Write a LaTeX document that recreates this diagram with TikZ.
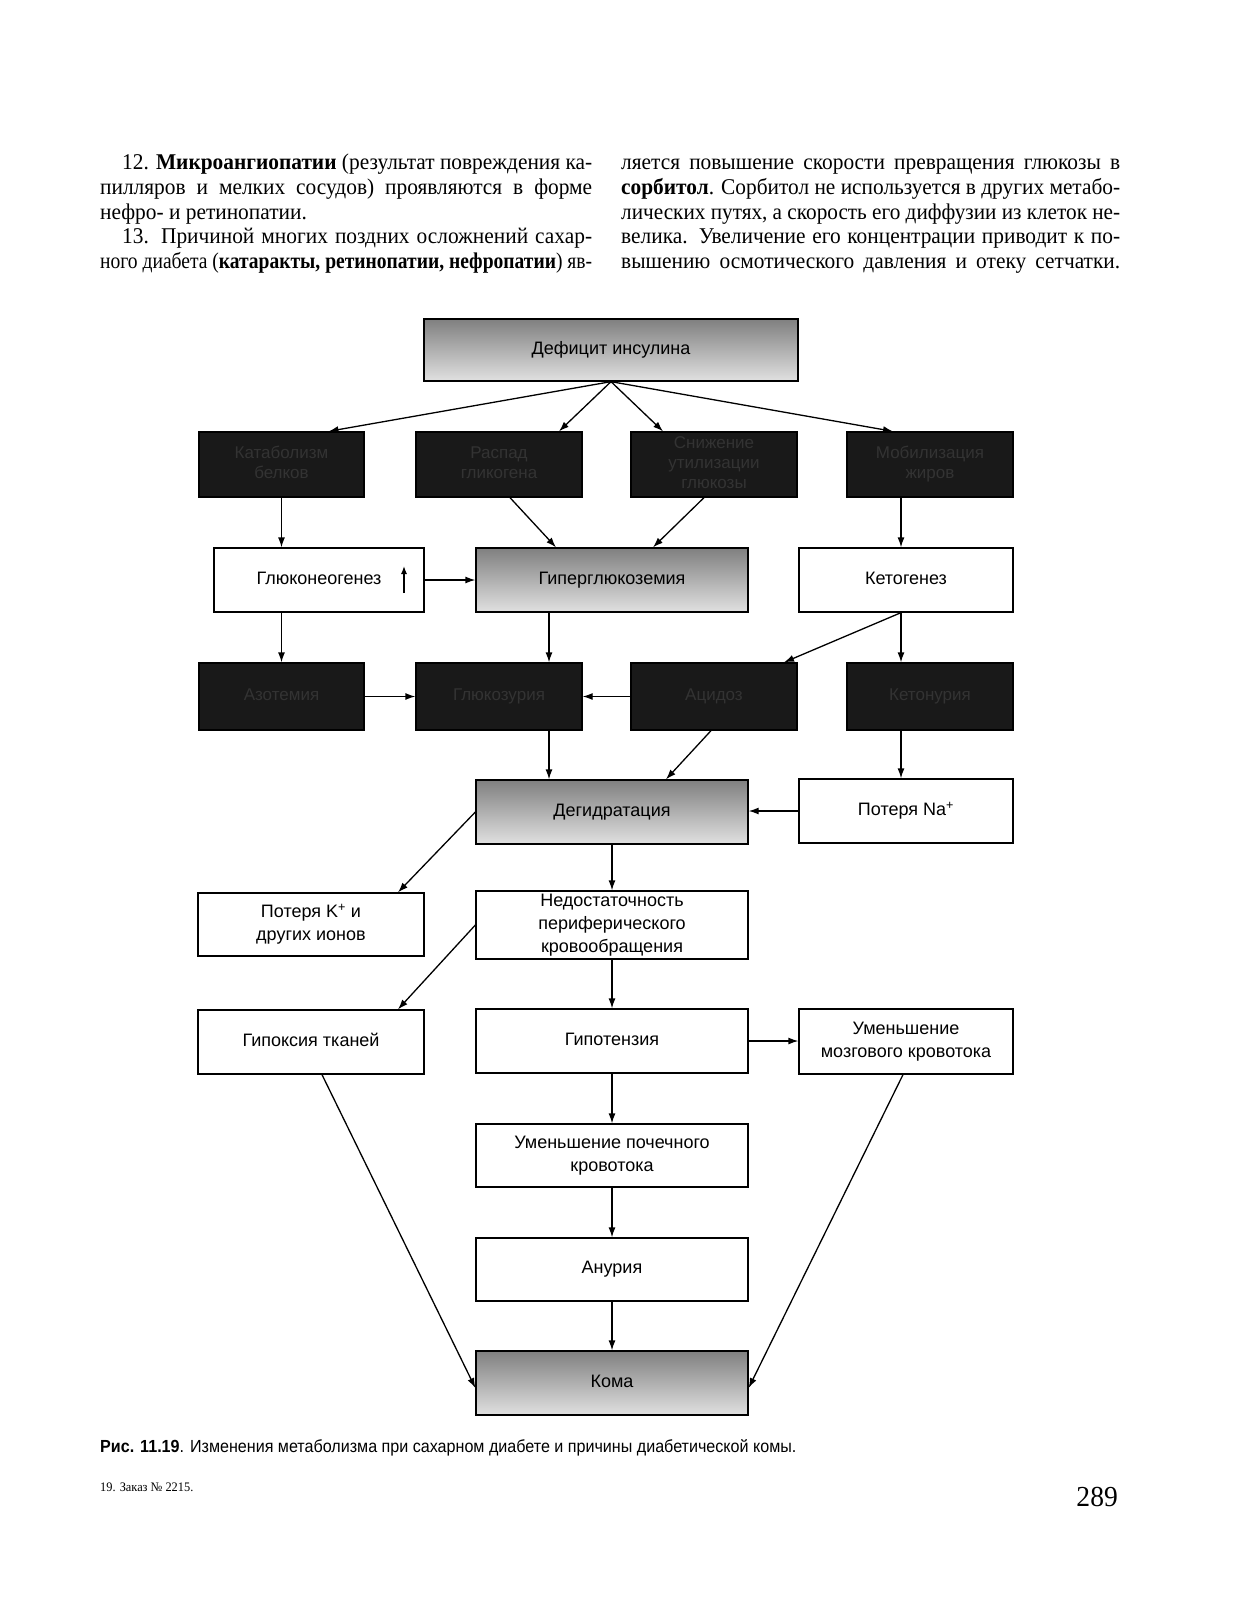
\documentclass[tikz,border=0pt]{standalone}
\usepackage{fontspec}
\usepackage{graphicx}
\setmainfont{Liberation Sans}
\newfontfamily\serifbody[FakeStretch=0.95]{Liberation Serif}
\newfontfamily\capfont[FakeStretch=0.92]{Liberation Sans}
\usetikzlibrary{arrows.meta,calc}
\newsavebox\jlinebox
\newcommand\jline[2]{\sbox\jlinebox{#2}%
  \ifdim\wd\jlinebox>#1\relax\resizebox{#1}{\ht\jlinebox}{\usebox\jlinebox}%
  \else\makebox[#1][s]{#2}\fi}
\tikzset{
  bx/.style={draw=black, line width=1.3pt, inner sep=2pt, align=center,
    font=\fontsize{18}{23}\selectfont,
    execute at begin node={\vphantom{Ару}},
    execute at end node={\vphantom{Ару}}},
  wbx/.style={bx, fill=white},
  darkbx/.style={bx, fill=black!90, text=black!80, font=\fontsize{17}{20}\selectfont},
  grad/.style={bx, top color=black!50, bottom color=black!12},
  arr/.style={line width=1.3pt, -{Latex[length=10pt,width=7pt]}},
  tx/.style={inner sep=0pt, font=\serifbody\fontsize{22.5}{26}\selectfont},
}
\begin{document}
\begin{tikzpicture}[x=1pt,y=-1pt]
\fill[white] (0,0) rectangle (1234,1600);
\useasboundingbox (0,0) rectangle (1234,1600);

% ---- body text ----
\node[tx, anchor=base west] (p1) at (122,169) {\jline{470pt}{12. \textbf{Микроангиопатии} (результат повреждения ка-}};
\node[tx, anchor=base west] (p2) at (100,194) {\jline{492pt}{пилляров и мелких сосудов) проявляются в форме}};
\node[tx, anchor=base west] (p3) at (100,219) {нефро- и ретинопатии.};
\node[tx, anchor=base west] (p4) at (122,243) {\jline{470pt}{13. Причиной многих поздних осложнений сахар-}};
\node[tx, anchor=base west] (p5) at (100,268) {\jline{492pt}{ного диабета (\textbf{катаракты, ретинопатии, нефропатии}) яв-}};
\node[tx, anchor=base west] (q1) at (621,169) {\jline{499pt}{ляется повышение скорости превращения глюкозы в}};
\node[tx, anchor=base west] (q2) at (621,194) {\jline{499pt}{\textbf{сорбитол}. Сорбитол не используется в других метабо-}};
\node[tx, anchor=base west] (q3) at (621,219) {\jline{499pt}{лических путях, а скорость его диффузии из клеток не-}};
\node[tx, anchor=base west] (q4) at (621,243) {\jline{499pt}{велика. Увеличение его концентрации приводит к по-}};
\node[tx, anchor=base west] (q5) at (621,268) {\jline{499pt}{вышению осмотического давления и отеку сетчатки.}};

% ---- diagram ----
\node[grad, minimum width=374pt, minimum height=62pt] (def) at (611,350) {Дефицит инсулина};

\node[darkbx, minimum width=165pt, minimum height=65pt] (b1) at (281.5,464.5) {Катаболизм\\белков};
\node[darkbx, minimum width=166pt, minimum height=65pt] (b2) at (499,464.5) {Распад\\гликогена};
\node[darkbx, minimum width=166pt, minimum height=65pt] (b3) at (714,464.5) {Снижение\\утилизации\\глюкозы};
\node[darkbx, minimum width=166pt, minimum height=65pt] (b4) at (930,464.5) {Мобилизация\\жиров};

\node[wbx, minimum width=210pt, minimum height=64pt] (gluc) at (319,580) {Глюконеогенез};
\node[grad, minimum width=272pt, minimum height=64pt] (hyper) at (612,580) {Гиперглюкоземия};
\node[wbx, minimum width=214pt, minimum height=64pt] (keto) at (906,580) {Кетогенез};

\node[darkbx, minimum width=165pt, minimum height=67pt] (c1) at (281.5,696.5) {Азотемия};
\node[darkbx, minimum width=166pt, minimum height=67pt] (c2) at (499,696.5) {Глюкозурия};
\node[darkbx, minimum width=166pt, minimum height=67pt] (c3) at (714,696.5) {Ацидоз};
\node[darkbx, minimum width=166pt, minimum height=67pt] (c4) at (930,696.5) {Кетонурия};

\node[grad, minimum width=272pt, minimum height=64pt] (deh) at (612,812) {Дегидратация};
\node[wbx, minimum width=214pt, minimum height=64pt] (na) at (906,811) {Потеря Na\textsuperscript{+}};

\node[wbx, minimum width=226pt, minimum height=63pt] (k) at (311,924.5) {Потеря K\textsuperscript{+} и\\других ионов};
\node[wbx, minimum width=272pt, minimum height=68pt] (ned) at (612,925) {Недостаточность\\периферического\\кровообращения};

\node[wbx, minimum width=226pt, minimum height=64pt] (hyp) at (311,1042) {Гипоксия тканей};
\node[wbx, minimum width=272pt, minimum height=64pt] (hypot) at (612,1041) {Гипотензия};
\node[wbx, minimum width=214pt, minimum height=65pt] (mozg) at (906,1041.5) {Уменьшение\\мозгового кровотока};

\node[wbx, minimum width=272pt, minimum height=63pt] (poch) at (612,1155.5) {Уменьшение почечного\\кровотока};
\node[wbx, minimum width=272pt, minimum height=63pt] (anur) at (612,1269.5) {Анурия};
\node[grad, minimum width=272pt, minimum height=64pt] (koma) at (612,1383) {Кома};

% up arrow inside Глюконеогенез
\draw[line width=1.3pt, -{Latex[length=8pt,width=6pt]}] ([xshift=85pt,yshift=-13pt]gluc.center) -- ([xshift=85pt,yshift=14pt]gluc.center);

% ---- connectors ----
\draw[arr] (def.south) -- ([xshift=47pt]b1.north);
\draw[arr] (def.south) -- ([xshift=60pt]b2.north);
\draw[arr] (def.south) -- ([xshift=-51pt]b3.north);
\draw[arr] (def.south) -- ([xshift=-37pt]b4.north);

\draw[arr] (b1.south) -- (b1.south |- gluc.north);
\draw[arr] ([xshift=11pt]b2.south) -- ([xshift=-56pt]hyper.north);
\draw[arr] ([xshift=-10pt]b3.south) -- ([xshift=41pt]hyper.north);
\draw[arr] ([xshift=-29pt]b4.south) -- ([xshift=-29pt]b4.south |- keto.north);

\draw[arr] (gluc.east) -- (hyper.west);
\draw[arr] (c1.north |- gluc.south) -- (c1.north);
\draw[arr] ([xshift=-63pt]hyper.south) -- ([xshift=-63pt]hyper.south |- c2.north);
\draw[arr] ([xshift=-5pt]keto.south) -- ([xshift=70pt]c3.north);
\draw[arr] ([xshift=-5pt]keto.south) -- ([xshift=-5pt]keto.south |- c4.north);

\draw[arr] (c1.east) -- (c2.west);
\draw[arr] (c3.west) -- (c2.east);
\draw[arr] ([xshift=-63pt]deh.north |- c2.south) -- ([xshift=-63pt]deh.north);
\draw[arr] ([xshift=-3pt]c3.south) -- ([xshift=54pt]deh.north);
\draw[arr] ([xshift=-29pt]c4.south) -- ([xshift=-29pt]c4.south |- na.north);

\draw[arr] (na.west) -- (na.west -| deh.east);
\draw[arr] (deh.west) -- ([xshift=87pt]k.north);
\draw[arr] (deh.south) -- (ned.north);
\draw[arr] (ned.west) -- ([xshift=87pt]hyp.north);
\draw[arr] (ned.south) -- (hypot.north);
\draw[arr] (hypot.east) -- (hypot.east -| mozg.west);
\draw[arr] (hypot.south) -- (poch.north);
\draw[arr] (poch.south) -- (anur.north);
\draw[arr] (anur.south) -- (koma.north);
\draw[arr] ([xshift=11pt]hyp.south) -- ([yshift=-5pt]koma.west);
\draw[arr] ([xshift=-3pt]mozg.south) -- ([yshift=-5pt]koma.east);

% ---- caption and footer ----
\node[inner sep=0pt, anchor=base west, font=\capfont\fontsize{17.5}{20}\selectfont] (cap) at (100,1452)
  {\textbf{Рис. 11.19}. Изменения метаболизма при сахарном диабете и причины диабетической комы.};
\node[inner sep=0pt, anchor=base west, font=\serifbody\fontsize{13}{15}\selectfont] (zak) at (100,1491) {19. Заказ № 2215.};
\node[inner sep=0pt, anchor=base east, font=\serifbody\fontsize{29}{32}\selectfont] (pg) at (1118,1506) {289};
\end{tikzpicture}
\end{document}
